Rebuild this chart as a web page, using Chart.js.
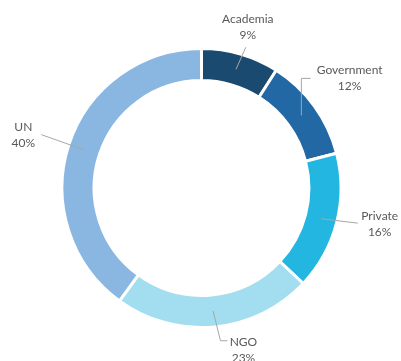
<!DOCTYPE html>
<html>
<head>
<meta charset="utf-8">
<script src="https://cdn.jsdelivr.net/npm/chart.js@4"></script>
<style>
  html, body { margin: 0; padding: 0; background: #fff; }
  #wrap { width: 401px; height: 361px; }
</style>
</head>
<body>
<div id="wrap"><canvas id="chart" width="401" height="361"></canvas></div>
<script>
// data
const sectors = ['Academia', 'Government', 'Private', 'NGO', 'UN'];
const shares  = [9, 12, 16, 23, 40];
const sectorColors = ['#1b4a70', '#2168a4', '#22b6e0', '#a2ddf0', '#8ab7e1'];

// label placement tweaks (nudge from the default spot, leader end relative to label, leader shape)
const labelNudge = [[-1, 2], [11, -10], [14, -6], [26, -7], [-17, 0]];
const leaderEnd  = [[-2, 20], [-39, 0], [-22, -1], [-16, -9], [18, -1]];
const leaderKind = ['straight', 'up', 'straight', 'tick', 'straight'];

const outsideLabels = {
  id: 'outsideLabels',
  afterDatasetsDraw(chart) {
    const ctx = chart.ctx;
    const meta = chart.getDatasetMeta(0);
    ctx.save();
    meta.data.forEach((arc, i) => {
      const p = arc.getProps(['x', 'y', 'startAngle', 'endAngle', 'innerRadius', 'outerRadius'], true);
      const mid = (p.startAngle + p.endAngle) / 2;
      const cos = Math.cos(mid), sin = Math.sin(mid);
      const rMid = (p.innerRadius + p.outerRadius) / 2;
      const start = { x: p.x + rMid * cos, y: p.y + rMid * sin };
      const lx = p.x + (p.outerRadius + 30) * cos + labelNudge[i][0];
      const ly = p.y + (p.outerRadius + 30) * sin + labelNudge[i][1];
      const end = { x: lx + leaderEnd[i][0], y: ly + leaderEnd[i][1] };

      // leader line
      ctx.strokeStyle = '#a6a6a6';
      ctx.lineWidth = 1;
      ctx.beginPath();
      ctx.moveTo(start.x, start.y);
      if (leaderKind[i] === 'up') ctx.lineTo(start.x, end.y);
      if (leaderKind[i] === 'tick') ctx.lineTo(end.x - 7, end.y);
      ctx.lineTo(end.x, end.y);
      ctx.stroke();

      // text
      ctx.fillStyle = '#595959';
      ctx.font = '12px Lato';
      ctx.textAlign = 'center';
      ctx.textBaseline = 'middle';
      ctx.fillText(sectors[i], lx, ly - 8);
      ctx.fillText(shares[i] + '%', lx, ly + 8);
    });
    ctx.restore();
  }
};

new Chart(document.getElementById('chart'), {
  type: 'doughnut',
  data: {
    labels: sectors,
    datasets: [{
      data: shares,
      backgroundColor: sectorColors,
      borderColor: '#ffffff',
      borderWidth: 3
    }]
  },
  options: {
    responsive: false,
    animation: false,
    cutout: '77%',
    layout: { padding: { left: 60, right: 58, top: 47, bottom: 32 } },
    plugins: {
      legend: { display: false },
      tooltip: { enabled: false }
    }
  },
  plugins: [outsideLabels]
});
</script>
</body>
</html>
